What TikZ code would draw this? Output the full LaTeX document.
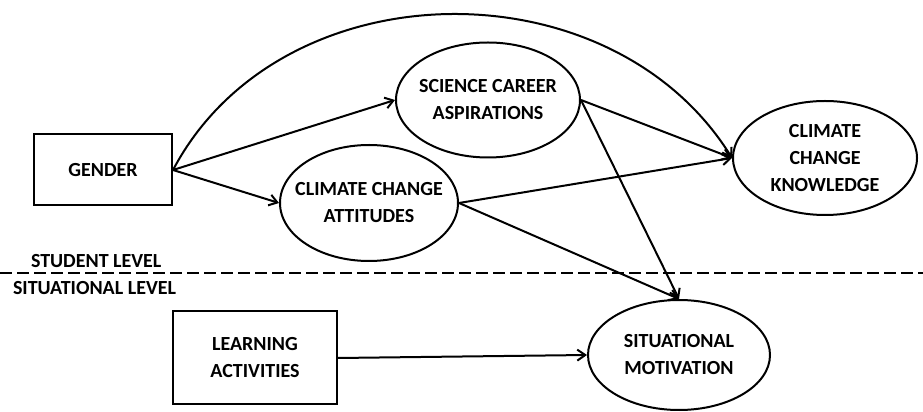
\documentclass[tikz,border=0pt]{standalone}
\usepackage{fontspec}
\setmainfont{Carlito}
\usepackage{tikz}
\usetikzlibrary{shapes.geometric}
\usetikzlibrary{arrows.meta}

\begin{document}
\begin{tikzpicture}[x=1pt,y=1pt,
    font=\fontsize{20}{27}\selectfont\bfseries,
    line width=2pt,
    boxn/.style={draw, rectangle, align=center, inner sep=0pt},
    ovaln/.style={draw, ellipse, align=center, inner xsep=-25pt, inner ysep=-10pt},
    leveln/.style={anchor=west, inner sep=0pt},
    path/.style={-{Straight Barb[length=8pt,width=11pt]}}]
  \useasboundingbox (0,0) rectangle (923,412);
  % student level
  \node[boxn, minimum width=138, minimum height=71] (gender) at (103,242) {GENDER};
  \node[ovaln, minimum width=184, minimum height=115] (sca) at (488,312) {SCIENCE CAREER\\ASPIRATIONS};
  \node[ovaln, minimum width=178, minimum height=116] (cca) at (369,209) {CLIMATE CHANGE\\ATTITUDES};
  \node[ovaln, minimum width=184, minimum height=114] (cck) at (825,254) {CLIMATE\\CHANGE\\KNOWLEDGE};
  % situational level
  \node[boxn, minimum width=164, minimum height=93] (la) at (255,54) {LEARNING\\ACTIVITIES};
  \node[ovaln, minimum width=182, minimum height=110] (sm) at (679,57) {SITUATIONAL\\MOTIVATION};
  % level divider
  \coordinate (divl) at (0,139);
  \coordinate (divr) at (923,139);
  \draw[dash pattern=on 12pt off 5pt, line width=2.4pt] (divl) -- (divr);
  \node[leveln] (student) at (30,151) {STUDENT LEVEL};
  \node[leveln] (situational) at (12,124) {SITUATIONAL LEVEL};
  % paths
  \draw[path] (gender.east) -- (sca.west);
  \draw[path] (gender.east) -- (cca.west);
  \draw[path] (gender.east) .. controls (280,445) and (610,450) .. (cck.west);
  \draw[path] (sca.east) -- (cck.west);
  \draw[path] (sca.east) -- (sm.north);
  \draw[path] (cca.east) -- (cck.west);
  \draw[path] (cca.east) -- (sm.north);
  \draw[path] (la.east) -- (sm.west);
\end{tikzpicture}
\end{document}
